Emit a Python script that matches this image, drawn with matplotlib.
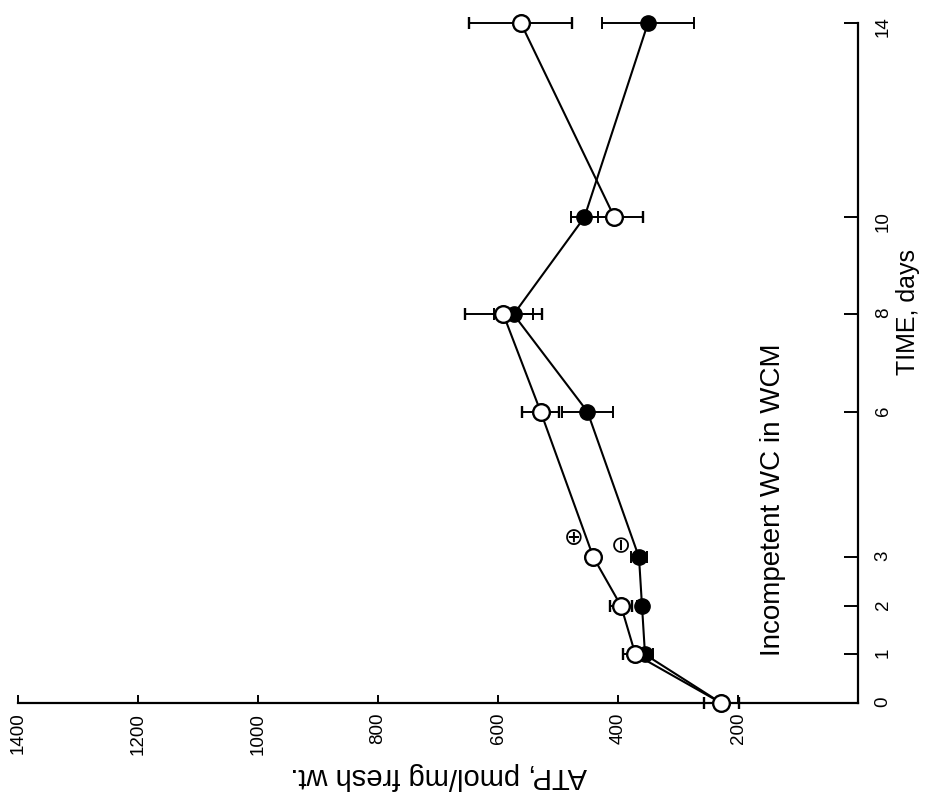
import matplotlib.pyplot as plt

plt.rcParams['font.family'] = ['Liberation Sans', 'DejaVu Sans']
plt.rcParams['xtick.labelsize'] = 13.5
plt.rcParams['ytick.labelsize'] = 13.5

# time points (days) and ATP levels, pmol/mg fresh wt.
days = [0, 1, 2, 3, 6, 8, 10, 14]
atp_plus = [228, 371, 395, 441, 529, 591, 406, 562]
err_plus = [29, 20, 19, 8, 31, 64, 48, 86]
atp_minus = [228, 355, 360, 365, 451, 574, 456, 350]
err_minus = [0, 13, 8, 14, 43, 32, 23, 76]
atp_ticks = [1400, 1200, 1000, 800, 600, 400, 200]


def NoClip(container):
    # errorbar parts get clipped at the axes edge otherwise
    for part in container.get_children():
        part.set_clip_on(False)


fig = plt.figure(figsize=(9.37, 7.98), dpi=100)
ax = fig.add_axes([18 / 937, 95 / 798, 840 / 937, 680 / 798])

# figure is laid on its side: ATP runs right-to-left, time runs upward
ax.set_xlim(1400, 0)
ax.set_ylim(0, 14)

eb = ax.errorbar(atp_minus, days, xerr=err_minus, fmt='-o', color='k',
                 mfc='k', mec='k', ms=11, lw=1.5, elinewidth=1.4,
                 capsize=4.5, capthick=1.4, zorder=3)
NoClip(eb)

# open series: the 8 -> 10 day segment is not joined
ax.plot(atp_plus[:6], days[:6], 'k-', lw=1.5, zorder=3, clip_on=False)
ax.plot(atp_plus[6:], days[6:], 'k-', lw=1.5, zorder=3, clip_on=False)
eb = ax.errorbar(atp_plus, days, xerr=err_plus, fmt='o', color='k',
                 mfc='white', mec='k', mew=1.7, ms=12, elinewidth=1.4,
                 capsize=4.5, capthick=1.4, zorder=4)
NoClip(eb)

ax.text(474, 3.40, '\u2295', family='DejaVu Sans', fontsize=17,
        ha='center', va='center')
ax.text(396, 3.31, '\u2296', family='DejaVu Sans', fontsize=17,
        ha='center', va='center', rotation=90)

for side in ['top', 'left']:
    ax.spines[side].set_visible(False)
for side in ['bottom', 'right']:
    ax.spines[side].set_linewidth(1.6)

ax.set_xticks(atp_ticks)
ax.set_yticks(days)
ax.yaxis.tick_right()
ax.tick_params(axis='x', direction='in', length=6, width=1.4,
               labelrotation=90, pad=7)
ax.tick_params(axis='y', direction='in', length=10, width=1.4,
               labelrotation=90, pad=12)
for lab in ax.get_xticklabels() + ax.get_yticklabels():
    lab.set_fontsize(13.5)

fig.text(439 / 937, 1 - 776 / 798, 'ATP, pmol/mg fresh wt.', fontsize=21,
         rotation=180, ha='center', va='center')
fig.text(908 / 937, 1 - 312 / 798, 'TIME, days', fontsize=18,
         rotation=90, ha='center', va='center')
fig.text(773 / 937, 1 - 500 / 798, 'Incompetent WC in WCM', fontsize=20,
         rotation=90, ha='center', va='center')

fig.savefig('out.png', dpi=100)
